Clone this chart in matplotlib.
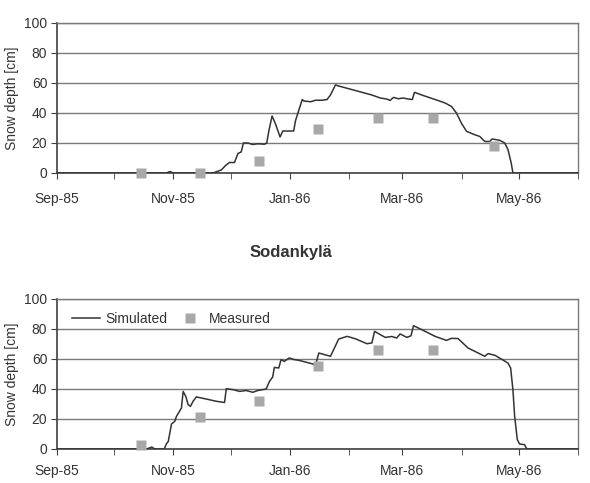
import numpy as np
import matplotlib
matplotlib.use("Agg")
import matplotlib.pyplot as plt
import matplotlib.dates as mdates

plt.rcParams['font.family'] = ['Liberation Sans', 'DejaVu Sans']

# days counted from 1 Sep 1985
start = np.datetime64('1985-09-01')

# upper panel - simulated
top_sim_day = [0, 57.4, 59.1, 60.9, 81.7, 86.1, 88.3, 90.4, 93.0, 94.8, 96.5, 97.7,
               100, 102.6, 105.2, 108.7, 109.9, 111, 112.7, 114.4, 116.9, 118.3, 124,
               125.0, 128.5, 129.4, 132.9, 135.5, 138.9, 141.5, 143.3, 145.9, 147.6,
               156.3, 165.0, 169.4, 172.8, 174.6, 176.3, 178.9, 181.5, 184.1, 186.2,
               187.3, 191.1, 198.1, 203.3, 206.7, 209.3, 212, 214.6, 218.9, 221.5,
               224.2, 226.8, 228, 232, 234.6, 236.3, 238, 238.9, 273]
top_sim_val = [0, 0, 1.0, 0, 0, 2, 5, 7, 7, 13, 14, 20,
               20, 19, 19.5, 19.2, 20, 28, 38, 33, 24, 28, 28,
               35, 49, 48, 47.5, 48.5, 48.5, 49, 52, 58.7, 58,
               55, 52, 50, 49.3, 48.4, 50.4, 49.5, 50, 49.3, 49,
               53.8, 52, 49, 46.7, 44.4, 40, 33, 27.8, 25.5, 24.4,
               21, 21, 22.7, 21.8, 20, 15.6, 6.7, 0, 0]
# upper panel - measured
top_meas_day = [44, 75, 106, 137, 168, 197, 229]
top_meas_val = [0, 0, 8, 29.5, 36.4, 36.4, 18.2]

# lower panel (Sodankyla) - simulated
bot_sim_day = [0, 47.0, 49.6, 51.3, 56.2, 57.4, 58.3, 60.0, 61.7, 62.6, 65.2, 66.1,
               67.5, 68.7, 69.9, 71.3, 73.0, 78.3, 83.5, 87.8, 88.7, 92.2, 95.7,
               99.1, 102.6, 105.2, 109.6, 111.3, 113.0, 113.9, 116.2, 117.4, 119.1,
               121.7, 124.3, 126.8, 135.5, 137.2, 143.3, 147.6, 152, 156.3, 162.4,
               165, 166.4, 172, 175.4, 178, 179.8, 183.3, 185.5, 186.8, 191.1, 198.1,
               204.1, 206.7, 210.2, 215.4, 220.7, 224.1, 225.9, 229.4, 232.8, 236.3,
               237.7, 238.9, 239.8, 241.2, 242.4, 245, 246.2, 273]
bot_sim_val = [0, 0, 1.3, 0, 0, 3.6, 5, 16.7, 18.4, 21.8, 27.3, 38.4,
               35, 29.6, 28.4, 31.8, 34.7, 33.3, 31.8, 31, 40.2, 39.6, 38.4,
               39, 37.8, 39, 40, 45, 48, 54.4, 54, 59.6, 58.4,
               60.7, 59.6, 59.1, 56.2, 64, 61.8, 73.3, 75.1, 73.5, 70.2,
               70.7, 78.4, 74.4, 75, 74, 76.7, 74.4, 75.5, 82.2, 79.6, 75.1,
               72.4, 73.8, 73.6, 67.3, 64, 61.8, 63.6, 62.5, 60, 57.3,
               54, 39.6, 21.8, 6.2, 3.3, 2.9, 0, 0]
# lower panel - measured
bot_meas_day = [44, 75, 106, 137, 168, 197]
bot_meas_val = [2.4, 21.3, 32, 55.6, 66.2, 66.2]

title_bottom = "Sodankylä"
ylabel = "Snow depth [cm]"


def to_dates(days):
    return start + (np.array(days) * 24 * 60).astype('timedelta64[m]')


def style_axes(ax, pad):
    ax.set_xlim(np.datetime64('1985-09-01'), np.datetime64('1986-06-01'))
    ax.set_ylim(0, 100)
    ax.set_yticks([0, 20, 40, 60, 80, 100])
    ax.yaxis.grid(True, color='#7a7a7a', lw=1)
    ax.set_axisbelow(True)
    ax.xaxis.set_major_locator(mdates.MonthLocator(bymonth=[9, 11, 1, 3, 5]))
    ax.xaxis.set_major_formatter(mdates.DateFormatter('%b-%y'))
    ax.xaxis.set_minor_locator(mdates.MonthLocator())
    ax.tick_params(axis='x', which='both', direction='out', length=4,
                   color='#404040', pad=pad, labelsize=10, labelcolor='#333333')
    ax.tick_params(axis='y', direction='out', length=4, color='#404040',
                   pad=3, labelsize=10, labelcolor='#333333')
    for s in ['left', 'bottom']:
        ax.spines[s].set_color('#404040')
        ax.spines[s].set_linewidth(1.2)
    for s in ['top', 'right']:
        ax.spines[s].set_color('#7a7a7a')
        ax.spines[s].set_linewidth(1)
    ax.set_ylabel(ylabel, fontsize=10, color='#333333', labelpad=4)


fig = plt.figure(figsize=(5.9, 4.83), dpi=100)
ax1 = fig.add_axes([57 / 590, 1 - 173 / 483, 521 / 590, 150 / 483])
ax2 = fig.add_axes([57 / 590, 1 - 449 / 483, 521 / 590, 150 / 483])

ax1.plot(to_dates(top_sim_day), top_sim_val, color='#333333', lw=1.1, zorder=3)
ax1.plot(to_dates(top_meas_day), top_meas_val, 's', color='#a8a8a8', ms=6.5,
         mec='none', zorder=4, clip_on=False)
style_axes(ax1, 10)

ax2.plot(to_dates(bot_sim_day), bot_sim_val, color='#333333', lw=1.1, zorder=3,
         label='Simulated')
ax2.plot(to_dates(bot_meas_day), bot_meas_val, 's', color='#a8a8a8', ms=6.5,
         mec='none', zorder=4, clip_on=False, label='Measured')
style_axes(ax2, 7)
ax2.legend(loc='upper left', bbox_to_anchor=(0.005, 1.0), ncol=2, frameon=False,
           fontsize=10, handlelength=2.0, columnspacing=0.6, handletextpad=0.4,
           labelcolor='#333333')

fig.text(291 / 590, 1 - 253 / 483, title_bottom, ha='center', va='center',
         fontsize=12, fontweight='bold', color='#333333')

fig.savefig('out.png', dpi=100)
